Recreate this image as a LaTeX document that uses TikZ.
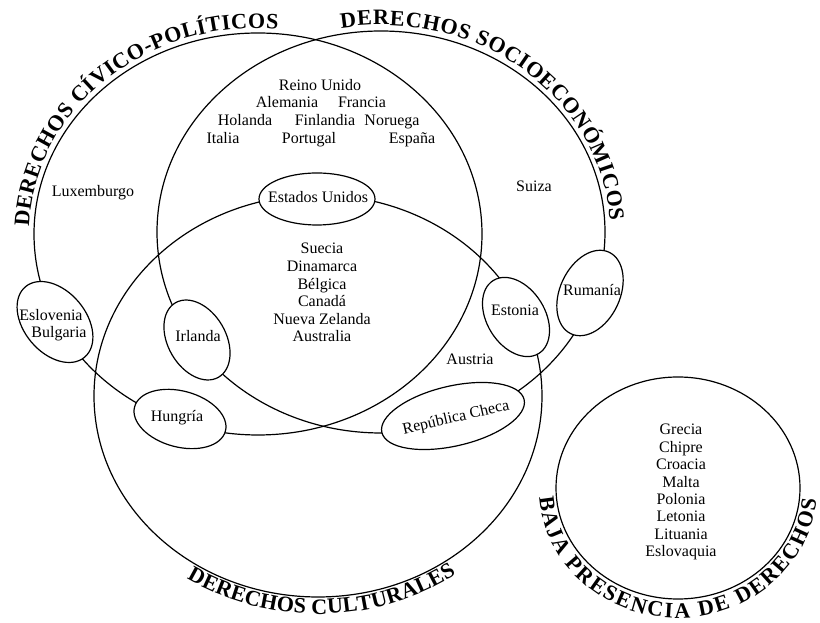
\documentclass[tikz,border=0pt]{standalone}
\usepackage{fontspec}
\setmainfont{Liberation Serif}
\usetikzlibrary{decorations.text}
\newcommand\lblfont{\fontsize{16}{17}\selectfont}
\newcommand\ttlfont{\fontsize{22}{24}\selectfont\bfseries}
\begin{document}
\begin{tikzpicture}[x=1pt,y=1pt,
  lbl/.style={font=\lblfont, inner sep=0pt, text height=11pt, text depth=3pt},
  ring/.style={draw, line width=1.2pt},
  pill/.style={draw, fill=white, line width=1.2pt},
  titlepath/.style={decorate, decoration={text along path, text align={fit to path}, text={|\ttlfont|#1}}}
]
\useasboundingbox (0,0) rectangle (820,623);
% centres of the four sets
\coordinate (c1) at (258,389);
\coordinate (c2) at (381,391);
\coordinate (c3) at (318,227);
\coordinate (cb) at (678,135);
\draw[ring] (c1) ellipse [x radius=224pt, y radius=201pt];
\draw[ring] (c2) ellipse [x radius=224pt, y radius=201pt];
\draw[ring] (c3) ellipse [x radius=224pt, y radius=201pt];
\draw[ring] (cb) ellipse [x radius=122pt, y radius=111pt];
% small ellipses on the borders
\coordinate (eEU) at (317,424);
\coordinate (eES) at (55,301);
\coordinate (eIR) at (197,283);
\coordinate (eHU) at (180,204);
\coordinate (eET) at (516,306);
\coordinate (eRU) at (590,330);
\coordinate (eRC) at (453,207);
\draw[pill] (eEU) ellipse [x radius=58pt, y radius=26pt];
\draw[pill, rotate around={-50:(eES)}] (eES) ellipse [x radius=46pt, y radius=31pt];
\draw[pill, rotate around={-60:(eIR)}] (eIR) ellipse [x radius=43pt, y radius=29pt];
\draw[pill, rotate around={-15:(eHU)}] (eHU) ellipse [x radius=47pt, y radius=28pt];
\draw[pill, rotate around={-58:(eET)}] (eET) ellipse [x radius=43pt, y radius=29pt];
\draw[pill, rotate around={65:(eRU)}] (eRU) ellipse [x radius=45pt, y radius=30pt];
\draw[pill, rotate around={13:(eRC)}] (eRC) ellipse [x radius=73pt, y radius=30pt];
% labels in small ellipses
\node[lbl] (eu) at (318,424) {Estados Unidos};
\node[lbl] (esl) at (51,306) {Eslovenia};
\node[lbl] (bul) at (59,289) {Bulgaria};
\node[lbl] (irl) at (198,285) {Irlanda};
\node[lbl] (hun) at (177,205) {Hungría};
\node[lbl] (est) at (515,311) {Estonia};
\node[lbl] (rum) at (592,331) {Rumanía};
\node[lbl, rotate=13] (rch) at (456,205) {República Checa};
% free labels
\node[lbl] (reino) at (320,536) {Reino Unido};
\node[lbl] (alem) at (287,519) {Alemania};
\node[lbl] (fran) at (362,519) {Francia};
\node[lbl] (hola) at (245,501) {Holanda};
\node[lbl] (finl) at (325,501) {Finlandia};
\node[lbl] (noru) at (392,501) {Noruega};
\node[lbl] (ital) at (223,483) {Italia};
\node[lbl] (port) at (309,483) {Portugal};
\node[lbl] (espa) at (412,483) {España};
\node[lbl] (luxe) at (93,430) {Luxemburgo};
\node[lbl] (suiz) at (534,435) {Suiza};
\node[lbl] (aust) at (470,262) {Austria};
\foreach \t [count=\i] in {Suecia,Dinamarca,Bélgica,Canadá,Nueva Zelanda,Australia}
  \node[lbl] (mid\i) at (322,{373-17.6*(\i-1)}) {\t};
\foreach \t [count=\i] in {Grecia,Chipre,Croacia,Malta,Polonia,Letonia,Lituania,Eslovaquia}
  \node[lbl] (baja\i) at (681,{192-17.4*(\i-1)}) {\t};
% titles along the borders
\path[titlepath={DERECHOS CÍVICO-POLÍTICOS}] ([shift={(178:229pt and 206pt)}]c1) arc [start angle=178, end angle=85, x radius=229pt, y radius=206pt];
\path[titlepath={DERECHOS SOCIOECONÓMICOS}] ([shift={(100:229pt and 207pt)}]c2) arc [start angle=100, end angle=3, x radius=229pt, y radius=207pt];
\path[titlepath={DERECHOS CULTURALES}] ([shift={(237:241pt and 218pt)}]c3) arc [start angle=237, end angle=305, x radius=241pt, y radius=218pt];
\path[titlepath={BAJA PRESENCIA DE DERECHOS}] ([shift={(184:139pt and 130pt)}]cb) arc [start angle=184, end angle=355, x radius=139pt, y radius=130pt];
\end{tikzpicture}
\end{document}
